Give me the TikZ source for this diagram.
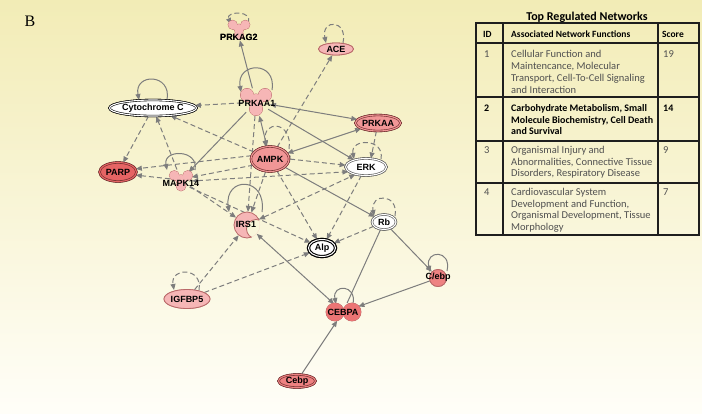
\documentclass[tikz,border=0pt]{standalone}
\usepackage{fontspec}
\setmainfont{Carlito}
\newfontfamily\arialf{Liberation Sans}
\newfontfamily\timesf{Liberation Serif}
\usetikzlibrary{arrows.meta,shapes.geometric}
\definecolor{bgtop}{RGB}{242,236,182}
\definecolor{bgbot}{RGB}{255,254,248}
\definecolor{edgegray}{RGB}{125,125,125}
\definecolor{pinkL}{RGB}{246,182,182}
\definecolor{pinkM}{RGB}{241,150,150}
\definecolor{redA}{RGB}{230,100,100}
\definecolor{redB}{RGB}{236,116,116}
\definecolor{redC}{RGB}{238,130,130}
\definecolor{nodeout}{RGB}{110,45,45}
\definecolor{shapeout}{RGB}{185,105,105}
\definecolor{tabtext}{RGB}{80,80,80}
\definecolor{tabline}{RGB}{30,30,30}

\newcommand\drawkinase[3]{%
 \begin{scope}[shift={(#1,#2)},scale=#3]
  \fill[pinkL,draw=shapeout,line width=0.8pt] (-9,-6) circle (6.5) (9,-6) circle (6.5) (0,8) circle (6.5) (0,0) circle (7);
  \fill[pinkL] (-9,-6) circle (6.5) (9,-6) circle (6.5) (0,8) circle (6.5) (0,0) circle (7);
 \end{scope}}

\begin{document}
\begin{tikzpicture}[x=1pt,y=-1pt,
  >={Triangle[length=6pt,width=5pt]},
  edgec/.style={draw=edgegray,line width=1pt},
  sol/.style={edgec,->},
  dsh/.style={edgec,->,dash pattern=on 5pt off 3pt},
  gnode/.style={ellipse,inner sep=0pt,font=\arialf\bfseries\fontsize{9}{10}\selectfont,text=black},
  cplx/.style={gnode,draw=nodeout,line width=0.6pt,double distance=1.1pt},
  single/.style={gnode,draw=shapeout,line width=0.8pt},
  lbl/.style={inner sep=0pt,font=\arialf\bfseries\fontsize{9}{10}\selectfont,text=black},
  hook/.style={circle,inner sep=0pt},
  tl/.style={anchor=base west,inner sep=0pt,font=\fontsize{10.5}{12}\selectfont,text=tabtext},
  tb/.style={anchor=base west,inner sep=0pt,font=\bfseries\fontsize{10}{12}\selectfont,text=black},
  th/.style={anchor=base west,inner sep=0pt,font=\bfseries\fontsize{9.5}{12}\selectfont,text=black},
  tabrule/.style={draw=tabline,line width=1.1pt}
]
\useasboundingbox (0,0) rectangle (702,413);
\shade[top color=bgtop,bottom color=bgbot] (0,0) rectangle (702,413);

\node[inner sep=0pt,font=\timesf\fontsize{16}{18}\selectfont] (blabel) at (30,21) {B};

% ---------- invisible hooks for shaped nodes ----------
\node[hook,minimum size=18pt] (prkag2) at (239,29) {};
\node[hook,minimum size=28pt] (prkaa1) at (256,102) {};
\node[hook,minimum size=22pt] (mapk14) at (181,180) {};
\node[hook,minimum size=26pt] (irs1) at (247,225) {};
\node[ellipse,inner sep=0pt,minimum width=38pt,minimum height=18pt] (cebpa) at (343,312) {};
\node[lbl] (prkag2t) at (239,37) {PRKAG2};

% ---------- ellipse nodes (placed now for anchors; redrawn on top) ----------
\node[single,fill=pinkL,minimum width=35pt,minimum height=12pt] (ace) at (336,49) {ACE};
\node[cplx,draw=black,double=white,fill=white,minimum width=80pt,minimum height=16pt] (cyto) at (153,108) {Cytochrome C};
\node[cplx,fill=pinkM,double=pinkM,minimum width=44pt,minimum height=16pt] (prkaa) at (378,123) {PRKAA};
\node[cplx,fill=pinkM,double=pinkM,minimum width=38pt,minimum height=25pt] (ampk) at (270,159) {AMPK};
\node[cplx,draw=black!65,double=white,fill=white,minimum width=41pt,minimum height=17pt] (erk) at (366,167) {ERK};
\node[cplx,fill=redA,double=redA,minimum width=37pt,minimum height=19pt] (parp) at (118,172) {PARP};
\node[cplx,draw=black!65,double=white,fill=white,minimum width=24pt,minimum height=15pt] (rb) at (384,222) {Rb};
\node[cplx,draw=black,line width=1.1pt,double=white,double distance=1pt,fill=white,minimum width=27pt,minimum height=17pt] (alp) at (322,248) {Alp};
\node[single,fill=pinkL,minimum width=40pt,minimum height=19pt] (igfbp5) at (187,299) {IGFBP5};
\node[circle,inner sep=0pt,minimum size=17pt,fill=redC,draw=shapeout,line width=0.8pt] (cebpc) at (438,278) {};
\node[cplx,fill=redC,double=redC,minimum width=37pt,minimum height=13pt] (cebp) at (297,381) {Cebp};

% ---------- connectors ----------
\draw[sol] (prkaa1) -- (prkag2t);
\draw[dsh] (prkaa1) -- (cyto);
\draw[sol,<->] (prkaa1) -- (prkaa);
\draw[sol] (prkaa1) -- (erk);
\draw[sol,<->] (prkaa1) -- (ampk);
\draw[sol] (prkaa1) -- (mapk14);
\draw[dsh] (prkaa1) -- (irs1);
\draw[dsh] (ampk) -- (ace);
\draw[dsh] (ampk) -- (cyto);
\draw[dsh] (cyto) -- (parp);
\draw[dsh] (mapk14) -- (cyto);
\draw[dsh] (ampk.170) -- (parp.10);
\draw[dsh] (mapk14) -- (parp.-10);
\draw[dsh] (ampk.200) -- (mapk14.15);
\draw[dsh,<->] (mapk14.-5) -- (erk.195);
\draw[dsh,|->] (ampk.east) -- (erk.175);
\draw[dsh] (prkaa) -- (erk.60);
\draw[sol,<->] (ampk) -- (prkaa);
\draw[dsh] (ampk) -- (irs1);
\draw[dsh] (ampk) -- (alp);
\draw[sol] (ampk) -- (rb);
\draw[dsh] (erk) -- (alp);
\draw[dsh] (rb) -- (alp);
\draw[dsh,<->] (irs1) -- (erk.215);
\draw[dsh] (mapk14) -- (irs1);
\draw[dsh] (mapk14.-40) -- (alp);
\draw[dsh] (igfbp5) -- (irs1);
\draw[dsh] (igfbp5) -- (alp);
\draw[sol,<->] (irs1) -- (cebpa);
\draw[edgec] (rb) -- (cebpa);
\draw[sol] (rb) -- (cebpc);
\draw[sol] (cebpc) -- (cebpa);
\draw[sol] (cebp) -- (cebpa);

% ---------- self loops ----------
\draw[dsh] ([shift={(9,-6)}]prkag2.center) .. controls +(6,-13) and +(-6,-13) .. ([shift={(-8,-5)}]prkag2.center);
\draw[dsh] ([shift={(7,-6)}]ace.center) .. controls +(5,-24) and +(-5,-24) .. ([shift={(-10,-6)}]ace.center);
\draw[sol] ([shift={(14,-8)}]cyto.center) .. controls +(5,-27) and +(-5,-27) .. ([shift={(-14,-8)}]cyto.center);
\draw[sol] ([shift={(16,-12)}]prkaa1.center) .. controls +(5,-30) and +(-5,-30) .. ([shift={(-15,-10)}]prkaa1.center);
\draw[dsh] ([shift={(19,-10)}]ampk.center) .. controls +(4,-28) and +(-4,-28) .. ([shift={(-4,-12)}]ampk.center);
\draw[dsh] ([shift={(15,-8)}]erk.center) .. controls +(4,-21) and +(-4,-21) .. ([shift={(-12,-8)}]erk.center);
\draw[sol] ([shift={(14,-10)}]mapk14.center) .. controls +(4,-21) and +(-4,-21) .. ([shift={(-14,-10)}]mapk14.center);
\draw[sol] ([shift={(15,-13)}]irs1.center) .. controls +(5,-36) and +(-5,-36) .. ([shift={(-18,-13)}]irs1.center);
\draw[dsh] ([shift={(11,-6)}]rb.center) .. controls +(4,-23) and +(-4,-23) .. ([shift={(-10,-6)}]rb.center);
\draw[dsh] ([shift={(12,-9)}]igfbp5.center) .. controls +(4,-23) and +(-4,-23) .. ([shift={(-13,-9)}]igfbp5.center);
\draw[sol] ([shift={(10,-8)}]cebpa.center) .. controls +(4,-20) and +(-4,-20) .. ([shift={(-7,-8)}]cebpa.center);
\draw[sol] ([shift={(9,-7)}]cebpc.center) .. controls +(5,-22) and +(-5,-22) .. ([shift={(-8,-6)}]cebpc.center);

% ---------- shapes on top ----------
\drawkinase{239}{29}{0.7}
\drawkinase{256}{101}{1}
\drawkinase{181}{180}{0.75}
% IRS1 crescent
\begin{scope}
  \clip (247,225) circle (13);
  \fill[pinkL,even odd rule] (247,225) circle (13) (256,229) circle (9.5);
  \draw[shapeout,line width=0.8pt] (256,229) circle (9.5);
\end{scope}
\begin{scope}[even odd rule]
  \clip (200,190) rectangle (300,260) (256,229) circle (9.5);
  \draw[shapeout,line width=0.8pt] (247,225) circle (13);
\end{scope}
% CEBPA double circle
\fill[redB,draw=shapeout,line width=0.8pt] (335,312) circle (9) (352,312) circle (9);
\fill[redB] (335,312) circle (9) (352,312) circle (9);

% redraw ellipse nodes on top of connectors
\node[single,fill=pinkL,minimum width=35pt,minimum height=12pt] (aceT) at (336,49) {ACE};
\node[cplx,draw=black,double=white,fill=white,minimum width=80pt,minimum height=16pt] (cytoT) at (153,108) {Cytochrome C};
\node[cplx,fill=pinkM,double=pinkM,minimum width=44pt,minimum height=16pt] (prkaaT) at (378,123) {PRKAA};
\node[cplx,fill=pinkM,double=pinkM,minimum width=38pt,minimum height=25pt] (ampkT) at (270,159) {AMPK};
\node[cplx,draw=black!65,double=white,fill=white,minimum width=41pt,minimum height=17pt] (erkT) at (366,167) {ERK};
\node[cplx,fill=redA,double=redA,minimum width=37pt,minimum height=19pt] (parpT) at (118,172) {PARP};
\node[cplx,draw=black!65,double=white,fill=white,minimum width=24pt,minimum height=15pt] (rbT) at (384,222) {Rb};
\node[cplx,draw=black,line width=1.1pt,double=white,double distance=1pt,fill=white,minimum width=27pt,minimum height=17pt] (alpT) at (322,248) {Alp};
\node[single,fill=pinkL,minimum width=40pt,minimum height=19pt] (igfbp5T) at (187,299) {IGFBP5};
\node[circle,inner sep=0pt,minimum size=17pt,fill=redC,draw=shapeout,line width=0.8pt] (cebpcT) at (438,278) {};
\node[cplx,fill=redC,double=redC,minimum width=37pt,minimum height=13pt] (cebpT) at (297,381) {Cebp};

% labels of shaped nodes
\node[lbl] (prkag2l) at (239,37) {PRKAG2};
\node[lbl] (prkaa1t) at (257,103) {PRKAA1};
\node[lbl] (mapk14t) at (181,183) {MAPK14};
\node[lbl] (irs1t) at (246,224) {IRS1};
\node[lbl] (cebpat) at (343,312) {CEBPA};
\node[lbl] (cebpct) at (438,277) {C/ebp};

% ---------- table ----------
\node[anchor=base,inner sep=0pt,font=\bfseries\fontsize{12}{14}\selectfont] (ttitle) at (587,20) {Top Regulated Networks};
\draw[tabrule] (476,23) rectangle (699,235);
\draw[tabrule] (476,43) -- (699,43);
\draw[tabrule] (476,97) -- (699,97);
\draw[tabrule] (476,141) -- (699,141);
\draw[tabrule] (476,183) -- (699,183);
\draw[tabrule] (503,23) -- (503,235);
\draw[tabrule] (658,23) -- (658,235);

\node[th] (h1) at (483,37.5) {ID};
\node[th] (h2) at (511,37.5) {Associated Network Functions};
\node[th] (h3) at (662,37.5) {Score};

\node[tl] (r1id) at (484,57.5) {1};
\node[tl] (r1a) at (511,57.5) {Cellular Function and};
\node[tl] (r1b) at (511,69.5) {Maintencance, Molecular};
\node[tl] (r1c) at (511,81.5) {Transport, Cell-To-Cell Signaling};
\node[tl] (r1d) at (511,93.5) {and Interaction};
\node[tl] (r1s) at (663,57.5) {19};

\node[tb] (r2id) at (484,111.5) {2};
\node[tb] (r2a) at (511,111.5) {Carbohydrate Metabolism, Small};
\node[tb] (r2b) at (511,123) {Molecule Biochemistry, Cell Death};
\node[tb] (r2c) at (511,134.5) {and Survival};
\node[tb] (r2s) at (663,111.5) {14};

\node[tl] (r3id) at (484,153.5) {3};
\node[tl] (r3a) at (511,153.5) {Organismal Injury and};
\node[tl] (r3b) at (511,165) {Abnormalities, Connective Tissue};
\node[tl] (r3c) at (511,176.5) {Disorders, Respiratory Disease};
\node[tl] (r3s) at (663,153.5) {9};

\node[tl] (r4id) at (484,195.5) {4};
\node[tl] (r4a) at (511,195.5) {Cardiovascular System};
\node[tl] (r4b) at (511,207) {Development and Function,};
\node[tl] (r4c) at (511,218.5) {Organismal Development, Tissue};
\node[tl] (r4d) at (511,230) {Morphology};
\node[tl] (r4s) at (663,195.5) {7};
\end{tikzpicture}
\end{document}
